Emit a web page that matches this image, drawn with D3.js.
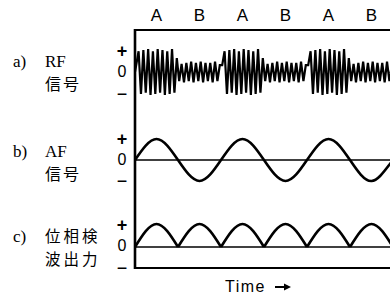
<!DOCTYPE html>
<html><head><meta charset="utf-8">
<script src="https://cdn.jsdelivr.net/npm/d3@7"></script>
<style>html,body{margin:0;padding:0;background:#fff;}svg{display:block;}</style>
</head><body>
<script>
// ---- data ----
const segments = ["A", "B", "A", "B", "A", "B"];
// RF carrier peaks for one half-period segment (alternating +/-)
const rfPeaksA = [0.3, 0.9, -0.95, 0.95, -0.9, 1.0, -1.0, 0.9, -0.95, 1.0, -0.9, 0.95, -1.0, 0.9, -0.95, 1.0, -0.9, 0.6];
const rfPeaksB = [-0.4, 0.35, -0.45, 0.4, -0.4, 0.45, -0.45, 0.4, -0.4, 0.45, -0.45, 0.4, -0.4, 0.4, -0.45, 0.45, -0.4, 0.3];
// AF signal knots (time in half-periods, value)
const afTime = [0, 0.5, 1, 1.5, 2, 2.5, 3, 3.5, 4, 4.5, 5, 5.5, 6, 6.5];
const afValue = [0, 1, 0, -1, 0, 1, 0, -1, 0, 1, 0, -1, 0, 1];
// phase detector output: arch peak per half-period
const detPeaks = [1, 1, 1, 1, 1, 1, 1];
const signLabels = ["+", "0", "\u2212"];

const W = 390, H = 298;
const svg = d3.select("body").append("svg").attr("width", W).attr("height", H);

const x = d3.scaleLinear().domain([0, 6]).range([135, 393]);
const yA = d3.scaleLinear().domain([-1, 1]).range([95, 49]);
const yB = d3.scaleLinear().domain([-1, 1]).range([181, 139]);
const yC = d3.scaleLinear().domain([0, 1]).range([247, 224]);

const sans = "Liberation Sans, Arial, sans-serif";
const serif = "Liberation Serif, Times New Roman, serif";
const cjk = "Noto Sans CJK JP, sans-serif";

// frame
svg.append("line").attr("x1", 135).attr("x2", W).attr("y1", 30).attr("y2", 30)
  .attr("stroke", "#000").attr("stroke-width", 2);
svg.append("line").attr("x1", 135).attr("x2", W).attr("y1", 268).attr("y2", 268)
  .attr("stroke", "#000").attr("stroke-width", 2);

// segment labels
svg.selectAll("text.seg").data(segments).enter().append("text")
  .attr("class", "seg")
  .attr("x", (d, i) => x(i + 0.5))
  .attr("y", 21)
  .attr("text-anchor", "middle")
  .attr("font-family", sans).attr("font-size", 17)
  .text(d => d);

// ---- a) RF signal ----
const rfPts = [];
segments.forEach((s, i) => {
  const peaks = s === "A" ? rfPeaksA : rfPeaksB;
  peaks.forEach((v, k) => {
    rfPts.push([i + (k + 0.5) / peaks.length, v]);
  });
});
rfPts.unshift([0, 0]);
svg.append("path")
  .datum(rfPts)
  .attr("d", d3.line().x(d => x(d[0])).y(d => yA(d[1])))
  .attr("fill", "none").attr("stroke", "#000").attr("stroke-width", 2.2)
  .attr("stroke-linejoin", "miter");

// ---- b) AF signal ----
svg.append("line").attr("x1", 135).attr("x2", W).attr("y1", yB(0)).attr("y2", yB(0))
  .attr("stroke", "#000").attr("stroke-width", 1.4);
svg.append("path")
  .datum(afTime.map((t, i) => [t, afValue[i]]))
  .attr("d", d3.line().x(d => x(d[0])).y(d => yB(d[1])).curve(d3.curveNatural))
  .attr("fill", "none").attr("stroke", "#000").attr("stroke-width", 2.6);

// ---- c) detector output ----
svg.append("line").attr("x1", 135).attr("x2", W).attr("y1", yC(0)).attr("y2", yC(0))
  .attr("stroke", "#000").attr("stroke-width", 1.4);
svg.selectAll("path.arch").data(detPeaks).enter().append("path")
  .attr("class", "arch")
  .attr("d", (p, i) => d3.line().x(d => x(d[0])).y(d => yC(d[1])).curve(d3.curveNatural)(
    [[i, 0], [i + 0.5, p], [i + 1, 0]]))
  .attr("fill", "none").attr("stroke", "#000").attr("stroke-width", 2.6);

// left axis
svg.append("line").attr("x1", 135).attr("x2", 135).attr("y1", 29).attr("y2", 269)
  .attr("stroke", "#000").attr("stroke-width", 2.6);

// sign labels
const signY = [[51, 71, 94], [139, 159, 181], [225, 245, 268]];
signY.forEach(ys => {
  signLabels.forEach((s, j) => {
    svg.append("text")
      .attr("x", 122).attr("y", ys[j]).attr("dy", "0.36em")
      .attr("text-anchor", "middle")
      .attr("font-family", sans).attr("font-size", j === 1 ? 16 : 18)
      .attr("font-weight", j === 0 ? "bold" : "normal")
      .text(s);
  });
});

// panel labels
const panelLetters = ["a)", "b)", "c)"];
const panelLine1 = ["RF", "AF", "位相検"];
const panelLine2 = ["信号", "信号", "波出力"];
const labelY = [[66.5, 90], [156.5, 180], [242, 265]];
panelLetters.forEach((l, i) => {
  const isCjk = i === 2;
  svg.append("text").attr("x", 13).attr("y", labelY[i][0])
    .attr("font-family", serif).attr("font-size", 17).text(l);
  svg.append("text").attr("x", 45).attr("y", labelY[i][0])
    .attr("font-family", isCjk ? cjk : serif)
    .attr("font-size", isCjk ? 15.5 : 17)
    .attr("letter-spacing", isCjk ? 3 : 0)
    .text(panelLine1[i]);
  svg.append("text").attr("x", 45).attr("y", labelY[i][1])
    .attr("font-family", cjk).attr("font-size", isCjk ? 15.5 : 16)
    .attr("letter-spacing", isCjk ? 3 : 2)
    .text(panelLine2[i]);
});

// time label
svg.append("text").attr("x", 225).attr("y", 292)
  .attr("font-family", sans).attr("font-size", 16).attr("letter-spacing", 1.5)
  .text("Time");
svg.append("line").attr("x1", 275).attr("x2", 287).attr("y1", 287).attr("y2", 287)
  .attr("stroke", "#000").attr("stroke-width", 2);
svg.append("path").attr("d", "M284,283.5 L291,287 L284,290.5 Z").attr("fill", "#000");
</script>
</body></html>
